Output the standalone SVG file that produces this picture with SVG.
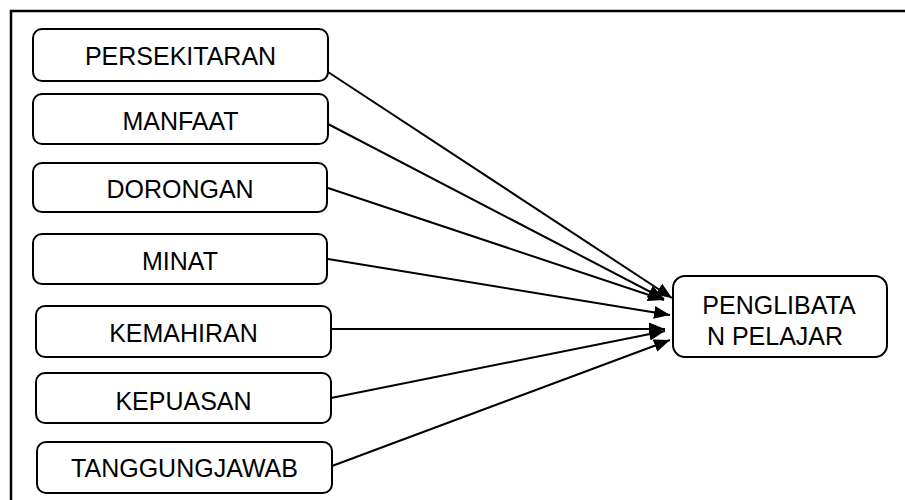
<svg xmlns="http://www.w3.org/2000/svg" width="905" height="500" viewBox="0 0 905 500">
<style>
.box{fill:#fff;stroke:#000;stroke-width:2}
.lbl{font-family:"Liberation Sans",Arial,sans-serif;font-size:25px;fill:#000;text-anchor:middle}
.edge{stroke:#000;stroke-width:2;fill:none;marker-end:url(#ah)}
</style>
<defs>
<marker id="ah" markerUnits="userSpaceOnUse" markerWidth="17" markerHeight="13" refX="16" refY="6.5" orient="auto">
<path d="M0,0 L16,6.5 L0,13 Z" fill="#000"/>
</marker>
</defs>
<rect width="905" height="500" fill="#fff"/>
<path d="M11,500 L11,11 L905,11" fill="none" stroke="#000" stroke-width="2.5"/>
<g id="connectors">
<line class="edge" x1="328" y1="72" x2="672" y2="298"/>
<line class="edge" x1="328" y1="124" x2="664" y2="299"/>
<line class="edge" x1="328" y1="188" x2="664" y2="300"/>
<line class="edge" x1="328" y1="259" x2="670" y2="315"/>
<line class="edge" x1="331" y1="329" x2="665" y2="329"/>
<line class="edge" x1="331" y1="398" x2="665" y2="331"/>
<line class="edge" x1="332" y1="466" x2="670" y2="340"/>
</g>
<g id="n1"><rect class="box" x="33" y="29" width="295" height="52" rx="9"/><text class="lbl" x="180.5" y="65">PERSEKITARAN</text></g>
<g id="n2"><rect class="box" x="33" y="94" width="295" height="50" rx="9"/><text class="lbl" x="180.5" y="130">MANFAAT</text></g>
<g id="n3"><rect class="box" x="33" y="163" width="294" height="49" rx="9"/><text class="lbl" x="180" y="198">DORONGAN</text></g>
<g id="n4"><rect class="box" x="33" y="234" width="294" height="50" rx="9"/><text class="lbl" x="180" y="270">MINAT</text></g>
<g id="n5"><rect class="box" x="36" y="306" width="295" height="51" rx="9"/><text class="lbl" x="183.5" y="342">KEMAHIRAN</text></g>
<g id="n6"><rect class="box" x="36" y="373" width="295" height="50" rx="9"/><text class="lbl" x="183.5" y="410">KEPUASAN</text></g>
<g id="n7"><rect class="box" x="37" y="442" width="295" height="51" rx="9"/><text class="lbl" x="184.5" y="477">TANGGUNGJAWAB</text></g>
<g id="target"><rect class="box" x="673" y="276" width="214" height="81" rx="12"/><text class="lbl" x="779" y="314">PENGLIBATA</text><text class="lbl" x="775" y="345">N PELAJAR</text></g>
</svg>
